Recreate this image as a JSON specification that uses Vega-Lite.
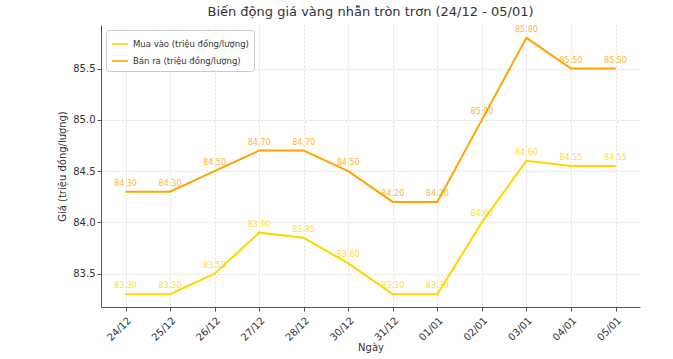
{
  "$schema": "https://vega.github.io/schema/vega-lite/v6.json",
  "width": 539,
  "height": 282,
  "autosize": {"type": "none"},
  "padding": {"left": 101, "top": 25, "right": 33, "bottom": 52},
  "background": "white",
  "title": {"text": "Biến động giá vàng nhẫn tròn trơn (24/12 - 05/01)", "font": "DejaVu Sans", "fontSize": 13, "fontWeight": "normal", "color": "#333333", "offset": 6, "anchor": "middle"},
  "config": {
    "font": "DejaVu Sans",
    "view": {"stroke": null},
    "axis": {"labelFont": "DejaVu Sans", "titleFont": "DejaVu Sans", "labelColor": "#333333", "titleColor": "#333333", "titleFontWeight": "normal", "domainColor": "#555555", "tickColor": "#555555", "gridColor": "#dddddd", "gridDash": [2, 2], "labelFontSize": 10, "titleFontSize": 10}
  },
  "data": {"values": [
    {"date": "24/12", "series": "Mua vào (triệu đồng/lượng)", "value": 83.30},
    {"date": "25/12", "series": "Mua vào (triệu đồng/lượng)", "value": 83.30},
    {"date": "26/12", "series": "Mua vào (triệu đồng/lượng)", "value": 83.50},
    {"date": "27/12", "series": "Mua vào (triệu đồng/lượng)", "value": 83.90},
    {"date": "28/12", "series": "Mua vào (triệu đồng/lượng)", "value": 83.85},
    {"date": "30/12", "series": "Mua vào (triệu đồng/lượng)", "value": 83.60},
    {"date": "31/12", "series": "Mua vào (triệu đồng/lượng)", "value": 83.30},
    {"date": "01/01", "series": "Mua vào (triệu đồng/lượng)", "value": 83.30},
    {"date": "02/01", "series": "Mua vào (triệu đồng/lượng)", "value": 84.00},
    {"date": "03/01", "series": "Mua vào (triệu đồng/lượng)", "value": 84.60},
    {"date": "04/01", "series": "Mua vào (triệu đồng/lượng)", "value": 84.55},
    {"date": "05/01", "series": "Mua vào (triệu đồng/lượng)", "value": 84.55},
    {"date": "24/12", "series": "Bán ra (triệu đồng/lượng)", "value": 84.30},
    {"date": "25/12", "series": "Bán ra (triệu đồng/lượng)", "value": 84.30},
    {"date": "26/12", "series": "Bán ra (triệu đồng/lượng)", "value": 84.50},
    {"date": "27/12", "series": "Bán ra (triệu đồng/lượng)", "value": 84.70},
    {"date": "28/12", "series": "Bán ra (triệu đồng/lượng)", "value": 84.70},
    {"date": "30/12", "series": "Bán ra (triệu đồng/lượng)", "value": 84.50},
    {"date": "31/12", "series": "Bán ra (triệu đồng/lượng)", "value": 84.20},
    {"date": "01/01", "series": "Bán ra (triệu đồng/lượng)", "value": 84.20},
    {"date": "02/01", "series": "Bán ra (triệu đồng/lượng)", "value": 85.00},
    {"date": "03/01", "series": "Bán ra (triệu đồng/lượng)", "value": 85.80},
    {"date": "04/01", "series": "Bán ra (triệu đồng/lượng)", "value": 85.50},
    {"date": "05/01", "series": "Bán ra (triệu đồng/lượng)", "value": 85.50}
  ]},
  "encoding": {
    "x": {"field": "date", "type": "ordinal", "sort": null, "scale": {"type": "point", "padding": 0.55},
      "axis": {"title": "Ngày", "labelAngle": -45, "grid": true, "tickSize": 4, "labelPadding": 4, "titlePadding": 0}},
    "y": {"field": "value", "type": "quantitative", "scale": {"domain": [83.175, 85.925], "zero": false, "nice": false},
      "axis": {"title": "Giá (triệu đồng/lượng)", "values": [83.5, 84.0, 84.5, 85.0, 85.5], "format": ".1f", "grid": true, "tickSize": 4, "titlePadding": 5}},
    "color": {"field": "series", "type": "nominal", "sort": ["Mua vào (triệu đồng/lượng)", "Bán ra (triệu đồng/lượng)"],
      "scale": {"domain": ["Mua vào (triệu đồng/lượng)", "Bán ra (triệu đồng/lượng)"], "range": ["#FFD700", "#FFA500"]},
      "legend": {"title": null, "orient": "top-left", "offset": 5, "symbolType": "stroke", "symbolStrokeWidth": 2, "symbolSize": 250, "labelFontSize": 8.5, "labelColor": "#333333", "strokeColor": "#cccccc", "fillColor": "white", "padding": 5, "cornerRadius": 3, "rowPadding": 3}}
  },
  "layer": [
    {"mark": {"type": "line", "strokeWidth": 2}},
    {"mark": {"type": "text", "dy": -8, "fontSize": 8, "opacity": 0.8}, "encoding": {"text": {"field": "value", "type": "quantitative", "format": ".2f"}}}
  ]
}
